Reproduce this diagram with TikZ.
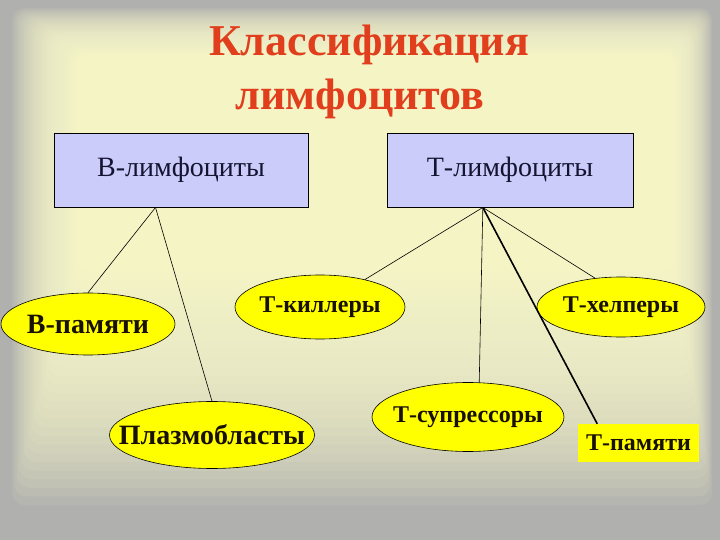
\documentclass[tikz,border=0pt]{standalone}
\usepackage{fontspec}
\setmainfont{Liberation Serif}
\usetikzlibrary{shapes.geometric,calc}
\newcommand\zwtext[1]{\makebox[0pt][c]{#1}}
\definecolor{bggray}{RGB}{176,176,174}
\definecolor{bgyel}{RGB}{255,255,208}
\definecolor{boxblue}{RGB}{204,204,250}
\definecolor{boxtext}{RGB}{20,20,50}
\definecolor{celltext}{RGB}{24,16,0}
\definecolor{cellfill}{RGB}{255,255,0}
\definecolor{titlered}{RGB}{224,62,28}
\begin{document}
\begin{tikzpicture}[x=1pt,y=-1pt,
  bbox/.style={draw=black, line width=0.9pt, fill=boxblue, text=boxtext, inner sep=0pt,
    font=\fontsize{28}{32}\selectfont},
  cell/.style={ellipse, draw=black, line width=0.6pt, fill=cellfill, inner sep=0pt,
    text=celltext, font=\bfseries\fontsize{24}{28}\selectfont},
  bigcell/.style={cell, font=\bfseries\fontsize{28}{32}\selectfont},
  tag/.style={rectangle, fill=cellfill, inner sep=0pt, text=celltext,
    font=\bfseries\fontsize{24}{28}\selectfont},
  link/.style={draw=black, line width=0.6pt},
  boldlink/.style={draw=black, line width=1.6pt},
  ttl/.style={text=titlered, font=\bfseries\fontsize{44}{48}\selectfont, inner sep=0pt, anchor=base}]
\useasboundingbox (0,0) rectangle (720,540);
\fill[bggray] (0,0) rectangle (720,540);
\foreach \i in {0,...,29} {
  \pgfmathsetmacro\t{\i/29}
  \fill[bgyel, opacity=0.085, rounded corners=12pt]
    ({12+70*\t},{8+50*\t}) rectangle ({712-40*\t},{505-250*\t});
}
% title
\node[ttl] (t1) at (369,56) {Классификация};
\node[ttl] (t2) at (360,110) {лимфоцитов};
% boxes
\node[bbox, minimum width=254, minimum height=74] (bl) at (181,170) {В-лимфоциты};
\node[bbox, minimum width=246, minimum height=74] (tl) at (510,170) {Т-лимфоциты};
% cells
\node[bigcell, minimum width=174, minimum height=62] (bmem) at (88,324) {\zwtext{В-памяти}};
\node[bigcell, minimum width=205, minimum height=67] (plaz) at (212,435) {\zwtext{Плазмобласты}};
\node[cell, minimum width=170, minimum height=64] (kill) at (320,307) {\zwtext{Т-киллеры}};
\node[cell, minimum width=168, minimum height=60] (help) at (621,307) {\zwtext{Т-хелперы}};
\node[cell, minimum width=192, minimum height=69] (sup) at (468,417) {\zwtext{Т-супрессоры}};
\node[tag, minimum width=121, minimum height=38] (tmem) at (638.5,443) {Т-памяти};
% connector origins
\coordinate (bo) at ($(bl.south west)!0.40!(bl.south east)$);
\coordinate (to) at ($(tl.south west)!0.39!(tl.south east)$);
\coordinate (tmemtop) at ($(tmem.north west)!0.16!(tmem.north east)$);
% connectors
\draw[link] (bo) -- (bmem.north);
\draw[link] (bo) -- (plaz.north);
\draw[link] (to) -- (kill);
\draw[link] (to) -- (help.132);
\draw[link] (to) -- (sup.72);
\draw[boldlink] (to) -- (tmemtop);
\end{tikzpicture}
\end{document}
